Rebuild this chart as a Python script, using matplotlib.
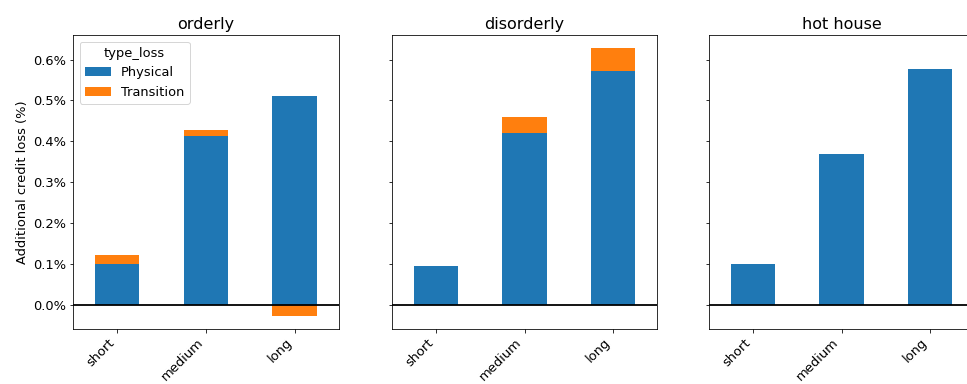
import matplotlib
matplotlib.use("Agg")
import matplotlib.pyplot as plt
import numpy as np
from matplotlib.ticker import PercentFormatter

scenarios = ["orderly", "disorderly", "hot house"]
horizons = ["short", "medium", "long"]
physical = {
    "orderly": [0.00100, 0.00414, 0.00511],
    "disorderly": [0.00096, 0.00420, 0.00572],
    "hot house": [0.00099, 0.00370, 0.00578],
}
transition = {
    "orderly": [0.00022, 0.00013, -0.00026],
    "disorderly": [0.0, 0.00040, 0.00056],
    "hot house": [0.0, 0.0, 0.0],
}
series_names = ["Physical", "Transition"]
colors = ["#1f77b4", "#ff7f0e"]

W, H = 967, 384
plt.rcParams["font.size"] = 13
fig = plt.figure(figsize=(W / 72, H / 72), dpi=72)

bottom = 1 - 329 / H
top = 1 - 35 / H
lefts = [73, 392, 709]
widths = [266, 265, 265]

axes = []
for i, sc in enumerate(scenarios):
    ax = fig.add_axes([lefts[i] / W, bottom, widths[i] / W, top - bottom],
                      sharey=axes[0] if axes else None)
    axes.append(ax)
    x = np.arange(len(horizons))
    p = np.array(physical[sc])
    t = np.array(transition[sc])
    pos_base = np.where(p >= 0, p, 0)
    neg_base = np.where(p < 0, p, 0)
    tb = np.where(t >= 0, pos_base, neg_base)
    ax.bar(x, p, width=0.5, color=colors[0], label=series_names[0])
    ax.bar(x, t, width=0.5, bottom=tb, color=colors[1], label=series_names[1])
    ax.axhline(0, color="black", lw=1.8)
    ax.set_xlim(-0.5, 2.5)
    ax.set_xticks(x)
    ax.set_xticklabels(horizons, rotation=45, ha="right")
    ax.set_title(sc, fontsize=16)
    if i == 0:
        ax.set_ylabel("Additional credit loss (%)")
        ax.legend(title="type_loss", loc="upper left")
    else:
        ax.tick_params(labelleft=False)

axes[0].yaxis.set_major_formatter(PercentFormatter(xmax=1, decimals=1))
axes[0].set_ylim(-0.00059, 0.00660)
axes[0].set_yticks([0, 0.001, 0.002, 0.003, 0.004, 0.005, 0.006])

fig.savefig("out.png", dpi=72)
